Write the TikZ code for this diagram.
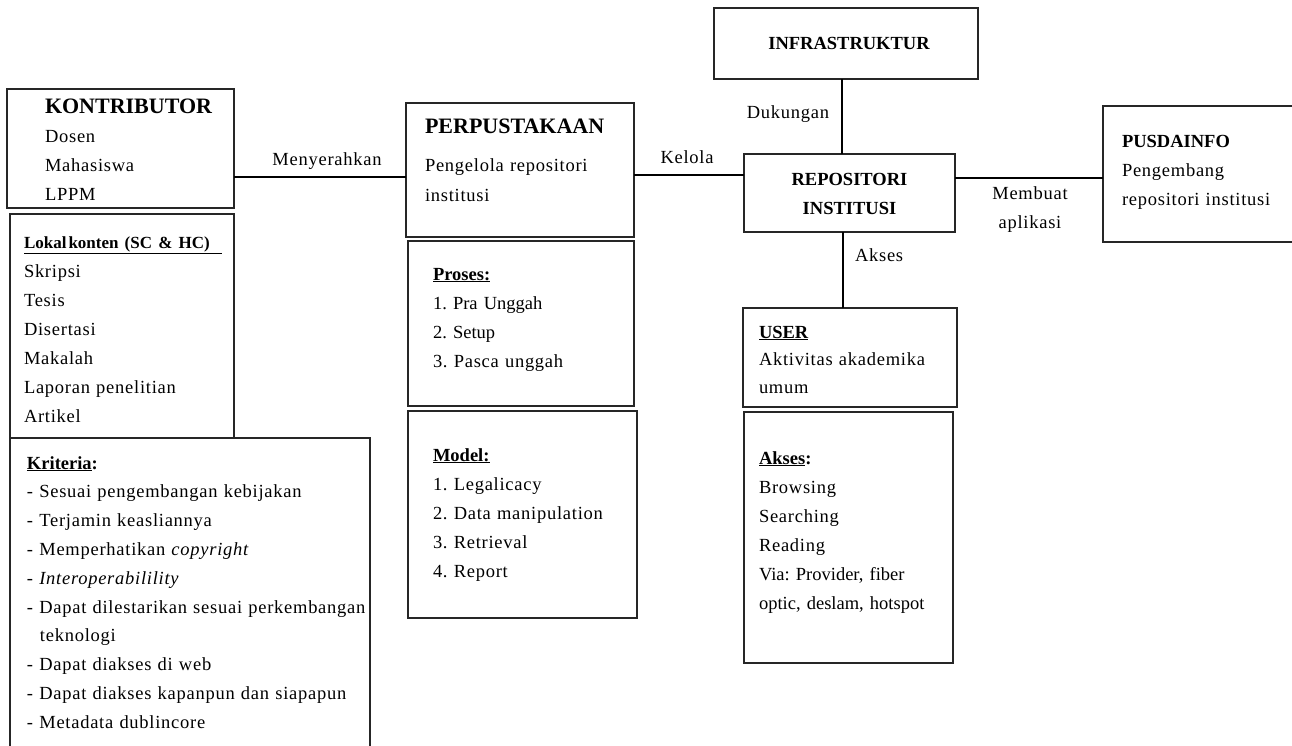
\documentclass[tikz,border=0pt]{standalone}
\usepackage{fontspec}
\setmainfont{Liberation Serif}
\newfontfamily\spacedrm{Liberation Serif}[LetterSpace=4]
\usetikzlibrary{fit}
\newcommand{\headfont}{\rmfamily\bfseries}
\frenchspacing
\begin{document}
\begin{tikzpicture}[x=1pt,y=-1pt,
  box/.style={draw=black!85, line width=1.4pt, inner sep=0pt, outer sep=0pt},
  link/.style={draw=black, line width=2.4pt},
  body/.style={inner sep=0pt, outer sep=0pt, anchor=base west, align=left,
    font=\spacedrm\fontsize{18.5}{29}\selectfont},
  lab/.style={inner sep=0pt, outer sep=0pt, font=\spacedrm\fontsize{18.5}{29}\selectfont},
  bighead/.style={font=\headfont\fontsize{22}{29}\selectfont},
  midhead/.style={inner sep=0pt, outer sep=0pt, font=\headfont\fontsize{18.5}{29}\selectfont}]
\clip (0,0) rectangle (1292,745);

% contributors and their content
\node[box, fit={(7,89) (234,208)}] (kon) {};
\node[body, text width=185pt] (kontxt) at (45,113)
  {{\headfont\fontsize{22}{29}\selectfont KONTRIBUTOR}\\Dosen\\Mahasiswa\\LPPM};

\node[box, fit={(10,214) (234,438)}] (lok) {};
\node[body, text width=205pt] (loktxt) at (24,248)
  {{\headfont\fontsize{17}{29}\selectfont\underline{Lokal\hspace{2pt}konten (SC \& HC)\hspace{12pt}}}\\Skripsi\\Tesis\\Disertasi\\Makalah\\Laporan penelitian\\Artikel};

\node[box, fit={(10,438) (370,760)}] (kri) {};
\node[body, text width=350pt, font=\spacedrm\fontsize{18.5}{28.8}\selectfont] (kritxt) at (27,469)
  {{\headfont\underline{Kriteria}:}\\- Sesuai pengembangan kebijakan\\- Terjamin keasliannya\\- Memperhatikan \textit{copyright}\\- \textit{Interoperabilility}\\- Dapat dilestarikan sesuai perkembangan\\\hspace*{13pt}teknologi\\- Dapat diakses di web\\- Dapat diakses kapanpun dan siapapun\\- Metadata dublincore};

% library column
\node[box, fit={(406,103) (634,237)}] (perp) {};
\node[body, bighead] (perptitle) at (425,133) {PERPUSTAKAAN};
\node[body, text width=200pt, font=\spacedrm\fontsize{18.5}{30}\selectfont] (perptxt) at (425,171)
  {Pengelola repositori\\institusi};

\node[box, fit={(408,241) (634,406)}] (pro) {};
\node[body, text width=190pt] (protxt) at (433,280)
  {{\headfont\underline{Proses:}}\\{\rmfamily 1. Pra Unggah}\\{\rmfamily 2. Setup}\\3. Pasca unggah};

\node[box, fit={(408,411) (637,618)}] (mod) {};
\node[body, text width=195pt] (modtxt) at (433,461)
  {{\headfont\underline{Model:}}\\1. Legalicacy\\2. Data manipulation\\3. Retrieval\\4. Report};

% repository and its neighbours
\node[box, line width=2.2pt, fit={(714,8) (978,79)}] (infra) {};
\node[midhead] (infratxt) at (849,43) {INFRASTRUKTUR};

\node[box, fit={(744,154) (955,232)}] (repo) {};
\node[midhead, anchor=base, text width=200pt, align=center] (repotxt) at (849.5,185)
  {REPOSITORI\\INSTITUSI};

\node[box, fit={(1103,106) (1310,242)}] (pus) {};
\node[body, text width=180pt] (pustxt) at (1122,147)
  {{\headfont PUSDAINFO}\\Pengembang\\repositori institusi};

\node[box, fit={(743,308) (957,407)}] (user) {};
\node[body, text width=190pt, font=\spacedrm\fontsize{18.5}{27.5}\selectfont] (usertxt) at (759,338)
  {{\headfont\underline{USER}}\\Aktivitas akademika\\umum};

\node[box, fit={(744,412) (953,663)}] (akb) {};
\node[body, text width=190pt] (akbtxt) at (759,464)
  {{\headfont\underline{Akses}:}\\Browsing\\Searching\\Reading\\{\rmfamily Via: Provider, fiber}\\{\rmfamily optic, deslam, hotspot}};

% connector labels
\node[lab, anchor=base] (lmeny) at (327,165) {Menyerahkan};
\node[lab, anchor=base] (lkel) at (687,163) {Kelola};
\node[lab, anchor=base] (lduk) at (788,118) {Dukungan};
\node[lab, anchor=base, text width=100pt, align=center] (lmem) at (1030,199) {Membuat\\aplikasi};
\node[lab, anchor=base west] (laks) at (855,261) {Akses};

% connectors
\coordinate (yA) at (0,177);
\coordinate (yB) at (0,175);
\coordinate (yC) at (0,178);
\coordinate (xD) at (842,0);
\coordinate (xE) at (843,0);
\draw[link] (kon.east |- yA) -- (perp.west |- yA);
\draw[link] (perp.east |- yB) -- (repo.west |- yB);
\draw[link] (repo.east |- yC) -- (pus.west |- yC);
\draw[link] (xD |- infra.south) -- (xD |- repo.north);
\draw[link] (xE |- repo.south) -- (xE |- user.north);
\end{tikzpicture}
\end{document}
